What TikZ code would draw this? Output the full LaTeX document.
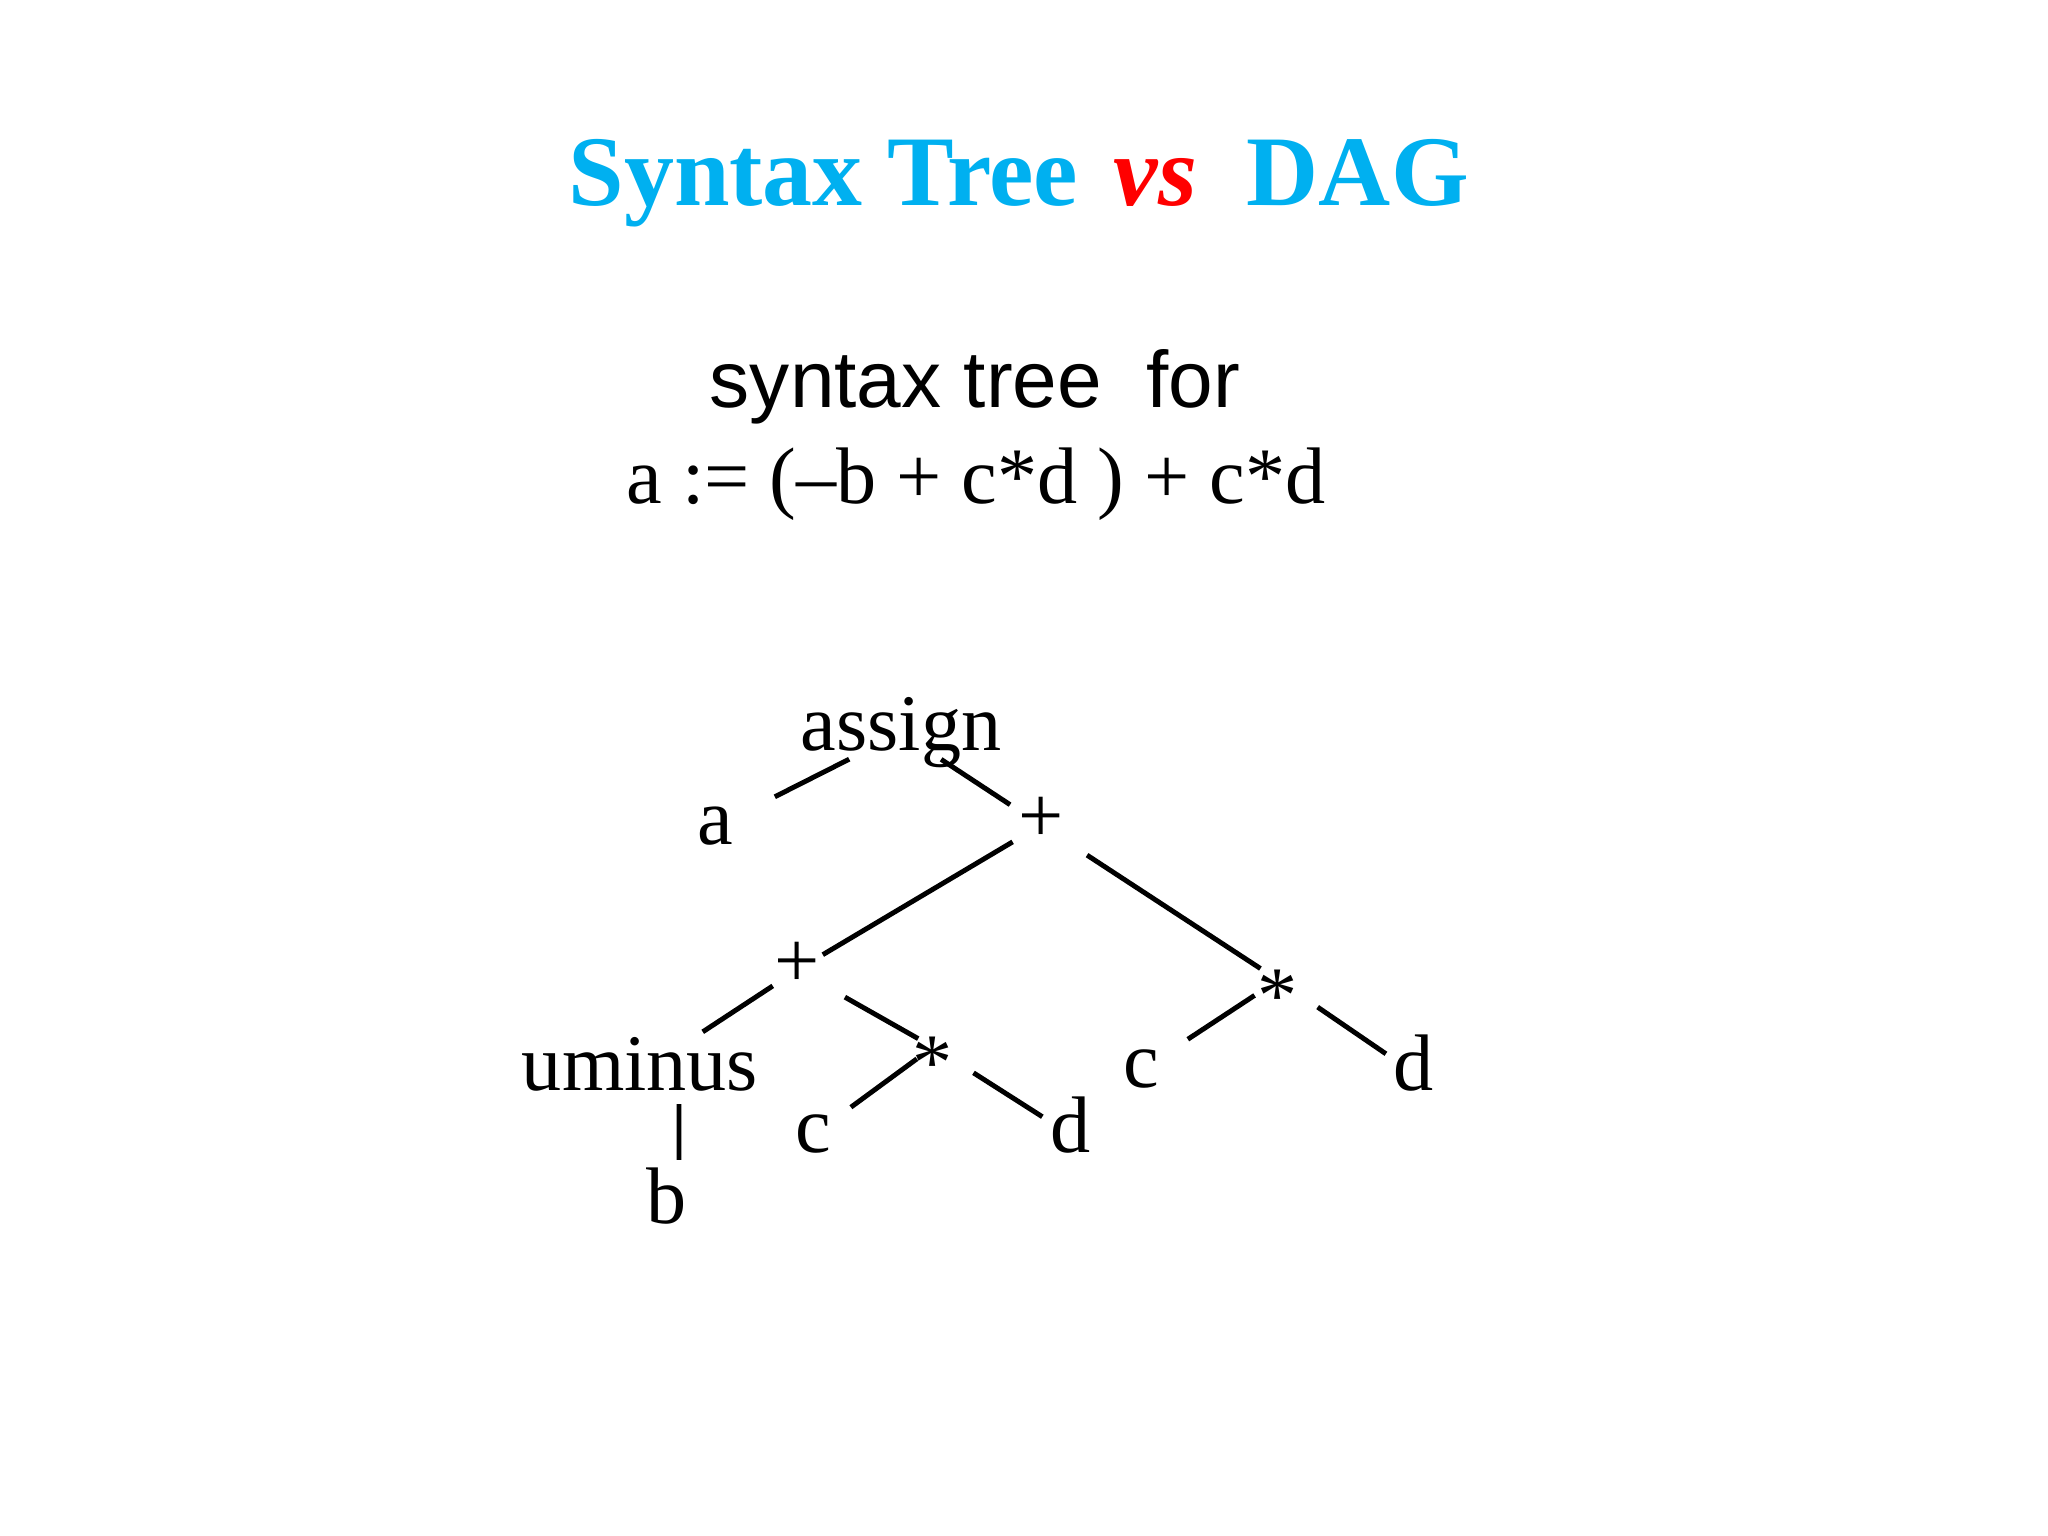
\documentclass[tikz,border=0pt]{standalone}
\usepackage{fontspec}
\setmainfont{Liberation Serif}
\newfontfamily\arialfont{Liberation Sans}
\usetikzlibrary{positioning}
\definecolor{titleblue}{RGB}{0,176,240}
\definecolor{vsred}{RGB}{255,0,0}

\begin{document}
\begin{tikzpicture}[x=0.01cm, y=-0.01cm,
        lbl/.style={font=\fontsize{22.8pt}{27pt}\selectfont, text height=10.2pt, text depth=0pt, inner sep=0pt},
        edge/.style={line width=1.4pt}]
        \useasboundingbox (0,0) rectangle (2048,1536);

                % Draw the title and the caption
                \node[anchor=base west, inner sep=0pt, text=titleblue, font=\fontsize{28.4pt}{32pt}\selectfont\bfseries] (title) at (568,205) {Syntax Tree\hspace{3pt} \textcolor{vsred}{\itshape vs}\ \ DAG};
                \node[anchor=base, inner sep=0pt, font=\arialfont\fontsize{22.8pt}{27pt}\selectfont] (caption) at (975,407) {syntax tree\ \ for};
                \node[anchor=base, inner sep=0pt, font=\fontsize{22.8pt}{27pt}\selectfont] (expr) at (976,503) {a := (–b + c*d ) + c*d};

                % Draw tree vertices
                \node[lbl] (assign) at (901,733) {assign};
                \node[lbl] (a) at (715,827) {a};
                \node[lbl] (plus1) at (1041,825) {+};

                \node[lbl] (plus2) at (797,970) {+};
                \node[lbl] (times1) at (1278,980) {\raisebox{-7pt}{*}};

                \node[lbl] (uminus) at (640,1073) {uminus};
                \node[lbl] (times2) at (933,1047) {\raisebox{-7pt}{*}};
                \node[lbl] (c1) at (1141,1070) {c};
                \node[lbl] (d1) at (1414,1073) {d};

                \node[lbl] (b) at (667,1206) {b};
                \node[lbl] (c2) at (813,1135) {c};
                \node[lbl] (d2) at (1071,1135) {d};

                % Draw edges from assign
                \draw[edge, shorten <=5.8mm, shorten >=6.7mm] (assign.center) -- (a.center);
                \draw[edge, shorten <=4.8mm, shorten >=3.7mm] (assign.center) -- (plus1.center);

                % Draw edges from the upper +
                \draw[edge, shorten <=3.3mm, shorten >=3.0mm] (plus1.center) -- (plus2.center);
                \draw[edge, shorten <=5.5mm, shorten >=2.1mm] (plus1.center) -- (times1.center);

                % Draw edges from the lower +
                \draw[edge, shorten <=2.9mm, shorten >=7.5mm] (plus2.center) -- (uminus.center);
                \draw[edge, shorten <=5.5mm, shorten >=1.7mm] (plus2.center) -- (times2.center);

                % Draw edges from the two *
                \draw[edge, shorten <=2.0mm, shorten >=4.7mm] (times2.center) -- (c2.center);
                \draw[edge, shorten <=4.8mm, shorten >=3.4mm] (times2.center) -- (d2.center);
                \draw[edge, shorten <=2.8mm, shorten >=5.6mm] (times1.center) -- (c1.center);
                \draw[edge, shorten <=4.8mm, shorten >=3.4mm] (times1.center) -- (d1.center);

                % Draw edge from uminus
                \draw[edge, shorten <=3.1mm, shorten >=4.6mm] ([xshift=3.9mm]uminus.center) -- ([xshift=1.2mm]b.center);

\end{tikzpicture}
\end{document}
